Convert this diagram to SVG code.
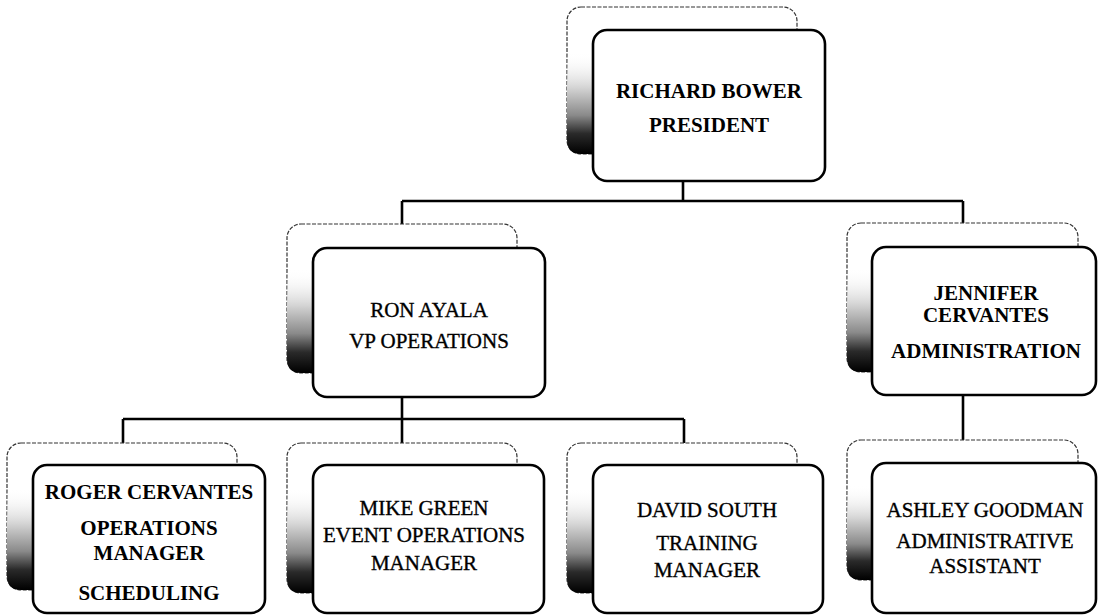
<svg xmlns="http://www.w3.org/2000/svg" width="1098" height="616" viewBox="0 0 1098 616">
<defs>
<linearGradient id="shade" x1="0" y1="0" x2="0" y2="1">
<stop offset="0" stop-color="#ffffff" stop-opacity="0"/>
<stop offset="0.35" stop-color="#d4d4d4"/>
<stop offset="0.62" stop-color="#8a8a8a"/>
<stop offset="0.8" stop-color="#2a2a2a"/>
<stop offset="1" stop-color="#000000"/>
</linearGradient>
</defs>
<style>
.back{fill:#fff;stroke:#333;stroke-width:1.2;stroke-dasharray:4 1.5}
.sh{fill:url(#shade);stroke:none}
.front{fill:#fff;stroke:#000;stroke-width:2.6}
.conn{stroke:#000;stroke-width:2.6;fill:none}
text{font-family:"Liberation Serif","Times New Roman",serif;font-size:21px;fill:#000;text-anchor:middle;stroke:#000;stroke-width:0.35}
.b{font-weight:bold;stroke-width:0}
</style>
<rect width="1098" height="616" fill="#fff"/>
<g id="connectors">
<path class="conn" d="M683 181 V201 M402 201 H963 M402 201 V224 M963 201 V223"/>
<path class="conn" d="M402 397 V419 M123 419 H684 M123 419 V443 M402 419 V443 M684 419 V443"/>
<path class="conn" d="M963 395 V440"/>
</g>
<g id="president">
<rect class="back" x="567" y="7" width="230" height="147" rx="14"/>
<path class="sh" d="M567 52 H593 V154 H581 Q567 154 567 140 Z"/>
<rect class="front" x="593" y="30" width="232" height="151" rx="14"/>
<text class="b" x="709" y="98" font-size="21">RICHARD BOWER</text>
<text class="b" x="709" y="132" font-size="21">PRESIDENT</text>
</g>
<g id="ron">
<rect class="back" x="287" y="224" width="230" height="149" rx="14"/>
<path class="sh" d="M287 269 H313 V373 H301 Q287 373 287 359 Z"/>
<rect class="front" x="313" y="248" width="232" height="149" rx="14"/>
<text x="429" y="317">RON AYALA</text>
<text x="429" y="348">VP OPERATIONS</text>
</g>
<g id="jennifer">
<rect class="back" x="847" y="223" width="231" height="149" rx="14"/>
<path class="sh" d="M847 268 H872 V372 H861 Q847 372 847 358 Z"/>
<rect class="front" x="872" y="247" width="224" height="148" rx="14"/>
<text class="b" x="986" y="300" font-size="20">JENNIFER</text>
<text class="b" x="986" y="322" font-size="20">CERVANTES</text>
<text class="b" x="986" y="358" font-size="20">ADMINISTRATION</text>
</g>
<g id="roger">
<rect class="back" x="7" y="443" width="230" height="147" rx="14"/>
<path class="sh" d="M7 488 H33 V590 H21 Q7 590 7 576 Z"/>
<rect class="front" x="33" y="465" width="232" height="148" rx="14"/>
<text class="b" x="149" y="499" font-size="20">ROGER CERVANTES</text>
<text class="b" x="149" y="535" font-size="20">OPERATIONS</text>
<text class="b" x="149" y="560" font-size="20">MANAGER</text>
<text class="b" x="149" y="600" font-size="20">SCHEDULING</text>
</g>
<g id="mike">
<rect class="back" x="287" y="443" width="230" height="150" rx="14"/>
<path class="sh" d="M287 488 H313 V593 H301 Q287 593 287 579 Z"/>
<rect class="front" x="313" y="465" width="231" height="148" rx="14"/>
<text x="424" y="515" font-size="22">MIKE GREEN</text>
<text x="424" y="542" font-size="22">EVENT OPERATIONS</text>
<text x="424" y="570" font-size="22">MANAGER</text>
</g>
<g id="david">
<rect class="back" x="567" y="443" width="230" height="150" rx="14"/>
<path class="sh" d="M567 488 H593 V593 H581 Q567 593 567 579 Z"/>
<rect class="front" x="593" y="465" width="230" height="148" rx="14"/>
<text x="707" y="517" font-size="22">DAVID SOUTH</text>
<text x="707" y="550" font-size="22">TRAINING</text>
<text x="707" y="577" font-size="22">MANAGER</text>
</g>
<g id="ashley">
<rect class="back" x="847" y="440" width="231" height="140" rx="14"/>
<path class="sh" d="M847 485 H872 V580 H861 Q847 580 847 566 Z"/>
<rect class="front" x="872" y="463" width="224" height="150" rx="14"/>
<text x="985" y="517" font-size="21.5">ASHLEY GOODMAN</text>
<text x="985" y="548" font-size="21.5">ADMINISTRATIVE</text>
<text x="985" y="573" font-size="21.5">ASSISTANT</text>
</g>
</svg>
